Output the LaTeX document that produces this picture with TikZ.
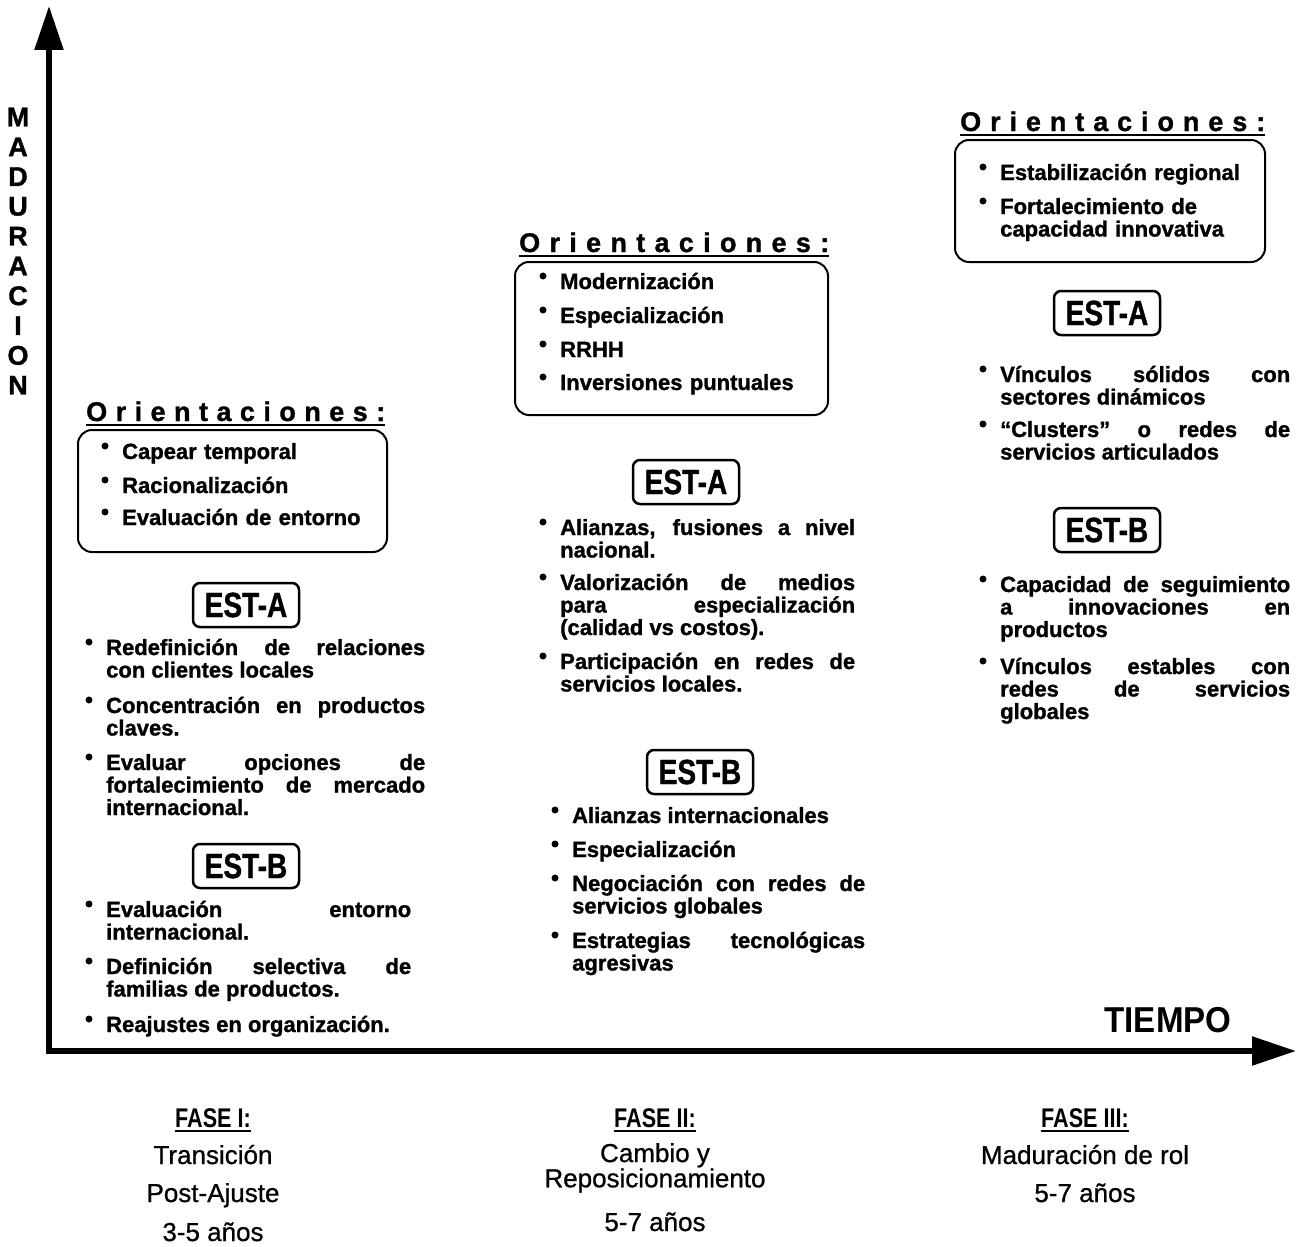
\documentclass[tikz,border=0pt]{standalone}
\usepackage{fontspec}
\setmainfont{Liberation Sans}
\newfontfamily\heavyfont{Liberation Sans}[FakeBold=1.2]
\newfontfamily\condfont{Liberation Sans}[FakeStretch=0.8, FakeBold=1]
\newfontfamily\narrowfont{Liberation Sans}[FakeStretch=0.8]
\newfontfamily\phasefam{Liberation Sans}[FakeBold=0.8]
\newfontfamily\tiempofam{Liberation Sans}[FakeStretch=0.92]
\usetikzlibrary{arrows.meta}
\newcommand{\itemfont}{\heavyfont\bfseries\fontsize{22}{22.5}\selectfont}
\newcommand{\headfont}{\heavyfont\bfseries\fontsize{27}{28}\selectfont}
\newcommand{\estfont}{\condfont\bfseries\fontsize{35}{36}\selectfont}
\newcommand{\phasefont}{\phasefam\fontsize{26}{23}\selectfont}
\newcommand{\fasefont}{\narrowfont\bfseries\fontsize{27}{28}\selectfont}
\newcommand{\spreadtext}[2]{\makebox[#1][s]{#2}}
\newcommand{\bul}[1]{\node[bulletdot] at ([xshift=-17pt,yshift=13pt]#1.base west) {};}
\newcommand{\hul}[1]{\draw[uline] ([yshift=-4pt]#1.base west) -- ([yshift=-4pt]#1.base east);}
\begin{document}
\begin{tikzpicture}[x=1pt,y=-1pt,
  axisline/.style={line width=5.5pt, line cap=rect, -{Triangle[length=44pt,width=28pt]}},
  orbox/.style={draw, line width=2pt, rounded corners=14pt, inner sep=0pt},
  estbox/.style={draw, line width=2.5pt, rounded corners=7pt, font=\estfont, inner sep=0pt, minimum width=106pt, minimum height=44pt},
  orhead/.style={font=\headfont, inner sep=0pt, anchor=base west},
  oitem/.style={font=\itemfont, inner sep=0pt, anchor=base west, text width=250pt, align=left},
  bitem/.style={font=\itemfont, inner sep=0pt, anchor=base west, align=justify},
  bulletdot/.style={circle, fill, inner sep=0pt, minimum size=7pt},
  phaselbl/.style={font=\phasefont, inner sep=0pt, anchor=base},
  faselbl/.style={font=\fasefont, inner sep=0pt, anchor=base},
  vletter/.style={font=\heavyfont\bfseries\fontsize{27}{27}\selectfont, inner sep=0pt},
  uline/.style={line width=2.5pt},
]
\fill[white] (0,0) rectangle (1296,1247);
\useasboundingbox (0,0) rectangle (1296,1247);

% axes
\coordinate (O) at (49,1051);
\coordinate (ytip) at (49,6);
\coordinate (xtip) at (1296,1051);
\draw[axisline] (O) -- (ytip);
\draw[axisline] (O) -- (xtip);

% vertical label
\foreach \l [count=\i from 0] in {M,A,D,U,R,A,C,I,O,N}
  \node[vletter] (v\i) at (18,117+29.8*\i) {\l};

\node[font=\tiempofam\bfseries\fontsize{36}{38}\selectfont, inner sep=0pt] (tiempo) at (1168,1020) {TIEMPO};

% ===== Column 1 =====
\node[orhead] (h1) at (86,421) {\spreadtext{299pt}{O r i e n t a c i o n e s :}};
\hul{h1}
\node[orbox, minimum width=309pt, minimum height=122pt] (b1) at (232.5,491) {};
\node[oitem] (o11) at (122,459) {Capear temporal};
\node[oitem] (o12) at (122,493) {Racionalización};
\node[oitem] (o13) at (122,525) {Evaluación de entorno};
\bul{o11}\bul{o12}\bul{o13}

\node[estbox] (e1a) at (246,605) {EST-A};
\node[bitem, text width=319pt] (i11) at (106,655) {Redefinición de relaciones\linebreak con clientes locales};
\node[bitem, text width=319pt] (i12) at (106,713) {Concentración en productos\linebreak claves.};
\node[bitem, text width=319pt] (i13) at (106,770) {Evaluar opciones de\linebreak fortalecimiento de mercado\linebreak internacional.};
\bul{i11}\bul{i12}\bul{i13}

\node[estbox] (e1b) at (246,866) {EST-B};
\node[bitem, text width=305pt] (i14) at (106,917) {Evaluación entorno\linebreak internacional.};
\node[bitem, text width=305pt] (i15) at (106,974) {Definición selectiva de\linebreak familias de productos.};
\node[bitem, text width=305pt] (i16) at (106,1032) {Reajustes en organización.};
\bul{i14}\bul{i15}\bul{i16}

% ===== Column 2 =====
\node[orhead] (h2) at (519,252) {\spreadtext{310pt}{O r i e n t a c i o n e s :}};
\hul{h2}
\node[orbox, minimum width=313pt, minimum height=153pt] (b2) at (671.5,338.5) {};
\node[oitem] (o21) at (560,289) {Modernización};
\node[oitem] (o22) at (560,323) {Especialización};
\node[oitem] (o23) at (560,357) {RRHH};
\node[oitem] (o24) at (560,390) {Inversiones puntuales};
\bul{o21}\bul{o22}\bul{o23}\bul{o24}

\node[estbox] (e2a) at (686,482) {EST-A};
\node[bitem, text width=295pt] (i21) at (560,535) {Alianzas, fusiones a nivel\linebreak nacional.};
\node[bitem, text width=295pt] (i22) at (560,590) {Valorización de medios\linebreak para especialización\linebreak (calidad vs costos).};
\node[bitem, text width=295pt] (i23) at (560,669) {Participación en redes de\linebreak servicios locales.};
\bul{i21}\bul{i22}\bul{i23}

\node[estbox] (e2b) at (700,772) {EST-B};
\node[bitem, text width=293pt] (i24) at (572,823) {Alianzas internacionales};
\node[bitem, text width=293pt] (i25) at (572,857) {Especialización};
\node[bitem, text width=293pt] (i26) at (572,891) {Negociación con redes de\linebreak servicios globales};
\node[bitem, text width=293pt] (i27) at (572,948) {Estrategias tecnológicas\linebreak agresivas};
\bul{i24}\bul{i25}\bul{i26}\bul{i27}

% ===== Column 3 =====
\node[orhead] (h3) at (960,131) {\spreadtext{305pt}{O r i e n t a c i o n e s :}};
\hul{h3}
\node[orbox, minimum width=310pt, minimum height=122pt] (b3) at (1110,201) {};
\node[oitem] (o31) at (1000,180) {Estabilización regional};
\node[oitem] (o32) at (1000,214) {Fortalecimiento de\\capacidad innovativa};
\bul{o31}\bul{o32}

\node[estbox] (e3a) at (1107,313) {EST-A};
\node[bitem, text width=290pt] (i31) at (1000,382) {Vínculos sólidos con\linebreak sectores dinámicos};
\node[bitem, text width=290pt] (i32) at (1000,437) {“Clusters” o redes de\linebreak servicios articulados};
\bul{i31}\bul{i32}

\node[estbox] (e3b) at (1107,530) {EST-B};
\node[bitem, text width=290pt] (i33) at (1000,592) {Capacidad de seguimiento\linebreak a innovaciones en\linebreak productos};
\node[bitem, text width=290pt] (i34) at (1000,674) {Vínculos estables con\linebreak redes de servicios\linebreak globales};
\bul{i33}\bul{i34}

% ===== Phases =====
\node[faselbl] (f1) at (213,1127) {FASE I:};
\hul{f1}
\node[phaselbl] (f1a) at (213,1164) {Transición};
\node[phaselbl] (f1b) at (213,1202) {Post-Ajuste};
\node[phaselbl] (f1c) at (213,1241) {3-5 años};

\node[faselbl] (f2) at (655,1127) {FASE II:};
\hul{f2}
\node[font=\phasefont, inner sep=0pt, align=center, anchor=north] (f2a) at (655,1143) {Cambio y\\Reposicionamiento};
\node[phaselbl] (f2c) at (655,1231) {5-7 años};

\node[faselbl] (f3) at (1085,1127) {FASE III:};
\hul{f3}
\node[phaselbl] (f3a) at (1085,1164) {Maduración de rol};
\node[phaselbl] (f3b) at (1085,1202) {5-7 años};
\end{tikzpicture}
\end{document}
